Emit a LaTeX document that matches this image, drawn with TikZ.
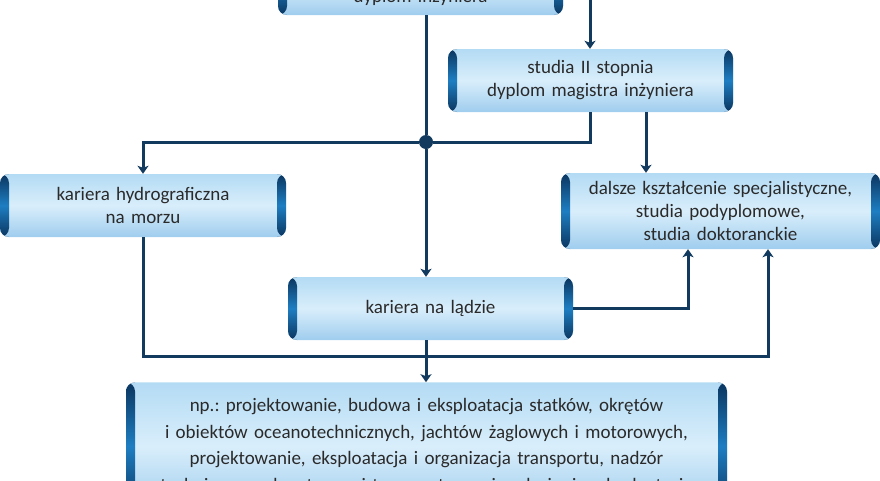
\documentclass[tikz,border=0pt]{standalone}
\usepackage{fontspec}
\setmainfont{Carlito}
\usepackage{tikz}
\usetikzlibrary{arrows.meta}
\usetikzlibrary{positioning}
\tikzset{font={\fontsize{19pt}{23pt}\selectfont}}
\usepackage{xcolor}
\frenchspacing
\definecolor{navy}{HTML}{123A5E}
\definecolor{boxtop}{HTML}{B3DBF4}
\definecolor{boxmid}{HTML}{D9EEFB}
\definecolor{boxbot}{HTML}{9FCDEE}
\definecolor{capdk}{HTML}{0B355F}
\definecolor{capmd}{HTML}{1E7EC2}
\definecolor{ink}{HTML}{2A2A2A}
\tikzset{
  careerbox/.style={rounded corners=9pt, inner xsep=0pt, inner ysep=0pt,
    minimum height=63pt, align=center, text=ink,
    top color=boxtop, bottom color=boxbot, middle color=boxmid,
    path picture={
      \shade[top color=capdk, bottom color=capdk, middle color=capmd]
        (path picture bounding box.south west) rectangle ([xshift=9pt]path picture bounding box.north west);
      \shade[top color=capdk, bottom color=capdk, middle color=capmd]
        ([xshift=-9pt]path picture bounding box.south east) rectangle (path picture bounding box.north east);
    }},
  link/.style={draw=navy, line width=3pt},
  arr/.style={link, -{Stealth[length=8pt,width=11pt,inset=2pt]}},
  hub/.style={circle, fill=navy, inner sep=0pt, minimum size=14pt},
}

\begin{document}
\begin{tikzpicture}[x=1pt,y=-1pt]
  \path[use as bounding box, clip] (0,0) rectangle (880,480);
  % Define nodes
  \node[careerbox, text width=285pt, text height=50pt, text depth=13pt] (inz) at (420.5,-16.5) {dyplom inżyniera};
  \node[careerbox, text width=285pt] (mgr) at (590.5,80.5) {studia II stopnia\\dyplom magistra inżyniera};
  \node[careerbox, text width=286pt] (hydro) at (143,205.5) {kariera hydrograficzna\\na morzu};
  \node[careerbox, text width=319pt, minimum height=76pt] (dalsze) at (720.5,211) {dalsze kształcenie specjalistyczne,\\studia podyplomowe,\\studia doktoranckie};
  \node[careerbox, text width=285pt] (lad) at (430.5,308.5) {kariera na lądzie};
  \node[careerbox, text width=601pt, inner ysep=16pt, below=42pt of lad, xshift=-4pt,
    font={\fontsize{19pt}{26.5pt}\selectfont}] (przyk)
    {np.: projektowanie, budowa i eksploatacja statków, okrętów\\
     i obiektów oceanotechnicznych, jachtów żaglowych i motorowych,\\
     projektowanie, eksploatacja i organizacja transportu, nadzór\\
     techniczny nad systemami transportowymi, wdrażanie, eksploatacja};
  \node[hub] (hub) at (426,142) {};
  \coordinate (feed) at (590,-10);
  \coordinate (bus) at (426,356);
  \coordinate (m2) at ([xshift=55.5pt]mgr.south);
  \coordinate (d1) at ([xshift=-32.5pt]dalsze.south);
  \coordinate (d2) at ([xshift=47.5pt]dalsze.south);

  % Connect the nodes
  \draw[link] (inz.south -| hub) -- (hub);
  \draw[arr] (hub) -- (lad.north -| hub);
  \draw[arr] (mgr.south) |- (hub) -| (hydro.north);
  \draw[arr] (feed) -- (feed |- mgr.north);
  \draw[arr] (m2) -- (m2 |- dalsze.north);
  \draw[arr] (lad.east) -| (d1);
  \draw[arr] (hydro.south) |- (bus) -| (d2);
  \draw[arr] (lad.south -| hub) -- (przyk.north -| hub);
\end{tikzpicture}
\end{document}
